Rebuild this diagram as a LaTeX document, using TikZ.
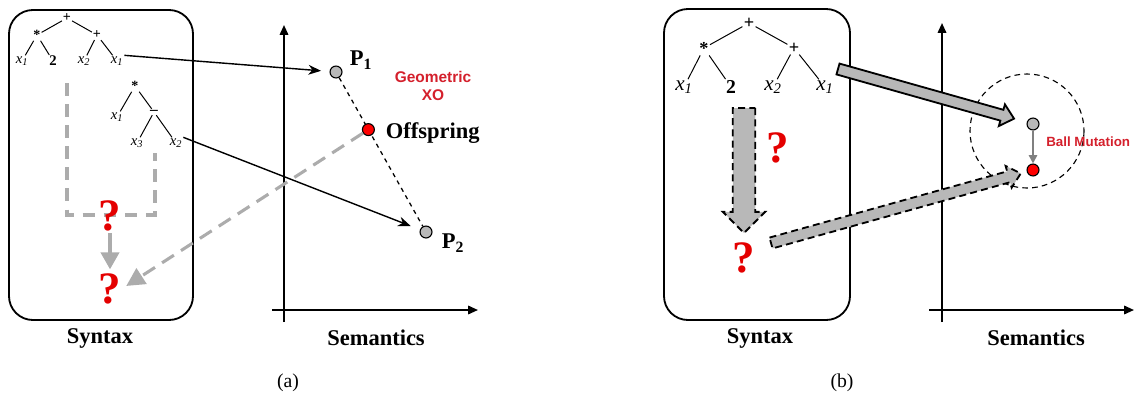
\documentclass[tikz,border=0pt]{standalone}
\usepackage{fontspec}
\setmainfont{Liberation Serif}
\setsansfont{Liberation Sans}
\usetikzlibrary{arrows.meta,calc}

\definecolor{qred}{RGB}{228,0,0}
\definecolor{lblred}{RGB}{212,32,44}
\definecolor{fillgray}{RGB}{184,184,184}
\definecolor{dashgray}{RGB}{172,172,172}

\newcommand\xv[1]{\textit{x\textsubscript{#1}}}
% fat block arrow: style, shaft half width, head half width, head length, from, to
\newcommand\fatarrow[6]{%
  \coordinate (fabase) at ($(#6)!#4!(#5)$);
  \draw[#1] ($(#5)!#2!90:(#6)$) -- ($(fabase)!#2!90:(#6)$) -- ($(fabase)!#3!90:(#6)$)
    -- (#6) -- ($(fabase)!#3!-90:(#6)$) -- ($(fabase)!#2!-90:(#6)$)
    -- ($(#5)!#2!-90:(#6)$) -- cycle;
}

\begin{document}
\begin{tikzpicture}[x=0.025cm, y=-0.025cm,
    synbox/.style={line width=1.3pt, rounded corners=17pt},
    axis/.style={line width=1.3pt, -{Triangle[length=7pt,width=6pt]}},
    edge/.style={line width=0.7pt},
    opa/.style={inner sep=0.6pt, font=\bfseries\fontsize{10}{10}\selectfont},
    leafa/.style={inner sep=0.6pt, font=\fontsize{10.5}{10.5}\selectfont},
    opb/.style={inner sep=0.8pt, font=\bfseries\fontsize{13}{13}\selectfont},
    leafb/.style={inner sep=0.8pt, font=\fontsize{15}{15}\selectfont},
    qmark/.style={inner sep=0pt, text=qred, font=\bfseries\fontsize{32}{32}\selectfont},
    pt/.style={circle, draw, line width=0.8pt, minimum size=8.5pt, inner sep=0pt},
    bigserif/.style={font=\bfseries\fontsize{16}{16}\selectfont},
    redsans/.style={text=lblred, font=\sffamily\bfseries\fontsize{11}{13}\selectfont, align=center},
    graydash/.style={dashgray, line width=2.2pt, dash pattern=on 9pt off 6pt},
    blackarrow/.style={line width=1pt, -{Stealth[length=9pt,width=7pt]}}]

    \useasboundingbox (0,0) rectangle (1136,401);

    % ---------- (a) ----------
    \draw[synbox] (9,10) rectangle (193,320);

    % first parent tree
    \node[opa] (ar) at (67,18) {+};
    \node[opa] (am) at (37,35) {*};
    \node[opa] (ap) at (97,35) {+};
    \node[leafa] (al1) at (22,61) {\xv{1}};
    \node[leafa, font=\bfseries\fontsize{10.5}{10.5}\selectfont] (al2) at (53,61) {2};
    \node[leafa] (al3) at (84,61) {\xv{2}};
    \node[leafa] (al4) at (117,61) {\xv{1}};
    \foreach \a/\b in {ar/am, ar/ap, am/al1, am/al2, ap/al3, ap/al4}
        \draw[edge] (\a) -- (\b);

    % second parent tree
    \node[opa] (br) at (135,86) {*};
    \node[leafa] (bl1) at (117,117) {\xv{1}};
    \node[opa, font=\bfseries\fontsize{11}{11}\selectfont] (bm) at (154,112) {--};
    \node[leafa] (bl2) at (137,143) {\xv{3}};
    \node[leafa] (bl3) at (176,143) {\xv{2}};
    \foreach \a/\b in {br/bl1, br/bm, bm/bl2, bm/bl3}
        \draw[edge] (\a) -- (\b);

    % unknown offspring
    \draw[graydash] (67,83) -- (67,215) -- (155,215) -- (155,153);
    \node[qmark] (q1) at (110,216) {?};
    \node[qmark] (q2) at (110,289) {?};
    \draw[dashgray, line width=2.2pt, shorten <=1pt, shorten >=3pt,
        -{Triangle[length=12pt,width=13pt]}] (q1) -- (q2);

    % semantic space
    \draw[axis] (272,310) -- (478,310);
    \draw[axis] (284,322) -- (284,25);
    \node[pt, fill=fillgray] (P1) at (336,72) {};
    \node[pt, fill=fillgray] (P2) at (426,232) {};
    \draw[dashed, line width=0.9pt] (P1) -- (P2);
    \node[pt, fill=red] (off) at ($(P1)!0.36!(P2)$) {};
    \node[bigserif] at (361,60) {P\textsubscript{1}};
    \node[bigserif] at (453,243) {P\textsubscript{2}};
    \node[bigserif, anchor=west] at (381,133) {Offspring};
    \node[redsans] at (433,86) {Geometric\\XO};

    \draw[blackarrow, shorten >=6pt] (al4.north east) -- (P1);
    \draw[blackarrow, shorten >=7pt] (bl3.north east) -- (P2);
    \draw[graydash, dash pattern=on 10pt off 6pt, shorten >=4pt,
        -{Triangle[length=13pt,width=13pt]}] (off) -- (q2.east);

    \node[bigserif] at (100,338) {Syntax};
    \node[bigserif] at (376,338) {Semantics};
    \node[font=\fontsize{14}{14}\selectfont] at (288,383) {(a)};

    % ---------- (b) ----------
    \draw[synbox] (664,9) rectangle (850,320);

    \node[opb] (cr) at (749,23) {+};
    \node[opb] (cm) at (704,48) {*};
    \node[opb] (cp) at (794,48) {+};
    \node[leafb] (cl1) at (684,87) {\xv{1}};
    \node[leafb, font=\bfseries\fontsize{14}{14}\selectfont] (cl2) at (731,87) {2};
    \node[leafb] (cl3) at (773,87) {\xv{2}};
    \node[leafb] (cl4) at (825,87) {\xv{1}};
    \foreach \a/\b in {cr/cm, cr/cp, cm/cl1, cm/cl2, cp/cl3, cp/cl4}
        \draw[edge] (\a) -- (\b);

    \node[qmark] (q3) at (778,148) {?};
    \node[qmark] (q4) at (744,258) {?};

    % semantic space
    \draw[axis] (929,310) -- (1134,310);
    \draw[axis] (942,322) -- (942,23);
    \draw[dashed, line width=0.8pt, dash pattern=on 4pt off 3pt] (1027,131) circle[radius=57];
    \node[pt, fill=fillgray] (gb) at (1033,124) {};
    \node[pt, fill=red] (rb) at (1033,170) {};
    \draw[gray, line width=1.2pt, -{Triangle[length=6pt,width=6pt]}] (gb) -- (rb);
    \node[redsans, font=\sffamily\bfseries\fontsize{9.5}{11}\selectfont, anchor=west, inner sep=0pt] at (1046,142) {Ball Mutation};

    % block arrows
    \coordinate (d1) at (744,108);
    \coordinate (d2) at (744,233);
    \fatarrow{fill=fillgray, line width=1.3pt, dash pattern=on 5pt off 3pt}{8pt}{15pt}{15pt}{d1}{d2}
    \coordinate (s1) at (838,69);
    \coordinate (e1) at ($(gb)!14pt!(s1)$);
    \fatarrow{fill=fillgray, line width=1.3pt}{4pt}{8pt}{9pt}{s1}{e1}
    \coordinate (s2) at (771,243);
    \coordinate (e2) at ($(rb)!9pt!(s2)$);
    \fatarrow{fill=fillgray, line width=1.3pt, dash pattern=on 5pt off 3pt}{4pt}{8pt}{9pt}{s2}{e2}

    \node[bigserif] at (760,338) {Syntax};
    \node[bigserif] at (1036,338) {Semantics};
    \node[font=\fontsize{14}{14}\selectfont] at (842,383) {(b)};

\end{tikzpicture}
\end{document}
